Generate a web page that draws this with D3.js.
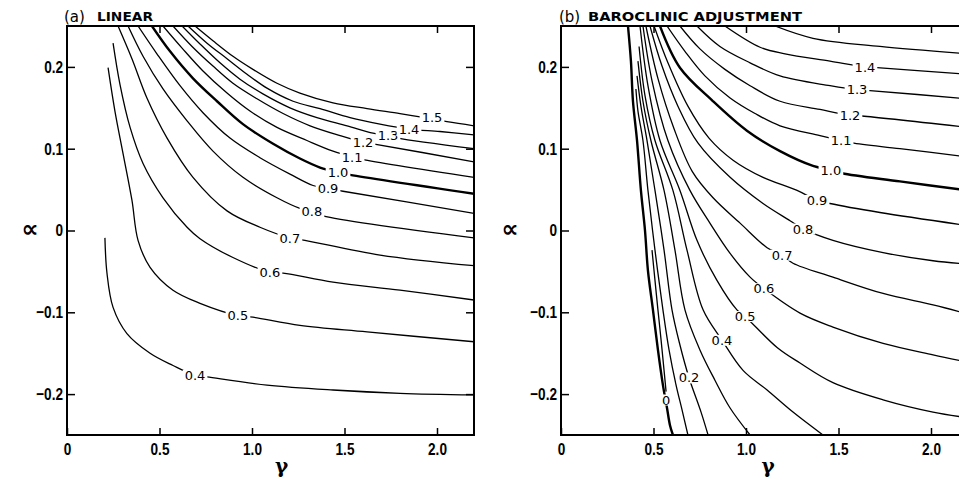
<!DOCTYPE html>
<html>
<head>
<meta charset="utf-8">
<script src="https://cdn.jsdelivr.net/npm/d3@7"></script>
<style>
body { margin: 0; background: #fff; }
svg { display: block; }
.tick text { font-family: "Liberation Sans", Arial, sans-serif; font-weight: bold; font-size: 17px; }
.clabel { font-family: "DejaVu Sans", sans-serif; font-size: 13px; }
</style>
</head>
<body>
<svg width="959" height="482"></svg>
<script>
var svg = d3.select('svg');

// axis ticks
var gammaTicks = [0, 0.5, 1.0, 1.5, 2.0];
var alphaTicks = [-0.2, -0.1, 0, 0.1, 0.2];

// (a) linear : contour levels, lines as [gamma, alpha], label spots
var levelsA = [0.4, 0.5, 0.6, 0.7, 0.8, 0.9, 1.0, 1.1, 1.2, 1.3, 1.4, 1.5];
var linesA = [
  [[0.205,-0.009],[0.216,-0.052],[0.249,-0.094],[0.324,-0.126],[0.449,-0.150],[0.573,-0.165],[0.692,-0.177],[0.757,-0.179],[1.081,-0.189],[1.438,-0.195],[1.800,-0.199],[2.2,-0.201]],
  [[0.222,0.199],[0.259,0.146],[0.303,0.094],[0.351,0.037],[0.384,-0.012],[0.449,-0.045],[0.573,-0.073],[0.719,-0.089],[0.924,-0.104],[1.005,-0.106],[1.259,-0.116],[1.622,-0.124],[2.2,-0.136]],
  [[0.249,0.229],[0.286,0.179],[0.341,0.126],[0.411,0.082],[0.519,0.040],[0.649,0.004],[0.719,-0.010],[0.897,-0.033],[1.097,-0.051],[1.168,-0.052],[1.438,-0.063],[1.800,-0.073],[2.2,-0.085]],
  [[0.276,0.25],[0.351,0.210],[0.432,0.162],[0.541,0.113],[0.681,0.065],[0.865,0.024],[1.043,0.004],[1.205,-0.009],[1.286,-0.012],[1.692,-0.030],[2.2,-0.043]],
  [[0.330,0.25],[0.411,0.213],[0.519,0.173],[0.649,0.134],[0.789,0.097],[0.951,0.065],[1.135,0.040],[1.259,0.027],[1.324,0.023],[1.384,0.018],[2.2,-0.009]],
  [[0.384,0.25],[0.486,0.216],[0.611,0.177],[0.735,0.144],[0.881,0.113],[1.043,0.089],[1.205,0.069],[1.330,0.055],[1.411,0.051],[1.492,0.048],[2.2,0.021]],
  [[0.459,0.25],[0.557,0.219],[0.681,0.186],[0.811,0.158],[0.951,0.130],[1.114,0.106],[1.259,0.088],[1.368,0.077],[1.465,0.071],[1.530,0.068],[2.2,0.045]],
  [[0.519,0.25],[0.622,0.223],[0.735,0.195],[0.865,0.168],[0.989,0.146],[1.135,0.126],[1.297,0.110],[1.438,0.097],[1.541,0.090],[1.595,0.087],[2.2,0.065]],
  [[0.573,0.25],[0.676,0.225],[0.789,0.201],[0.897,0.180],[1.027,0.161],[1.168,0.143],[1.314,0.128],[1.476,0.116],[1.600,0.108],[1.654,0.106],[2.2,0.084]],
  [[0.622,0.25],[0.719,0.228],[0.827,0.205],[0.935,0.185],[1.059,0.167],[1.205,0.150],[1.351,0.138],[1.514,0.128],[1.654,0.119],[1.735,0.116],[1.789,0.113],[2.2,0.100]],
  [[0.654,0.25],[0.757,0.229],[0.865,0.210],[0.973,0.191],[1.081,0.174],[1.222,0.158],[1.368,0.149],[1.530,0.138],[1.692,0.130],[1.849,0.124],[2.016,0.121],[2.2,0.117]],
  [[0.692,0.25],[0.789,0.232],[0.897,0.213],[1.005,0.197],[1.135,0.180],[1.259,0.168],[1.438,0.156],[1.622,0.149],[1.800,0.143],[1.908,0.139],[2.054,0.133],[2.2,0.128]]
];
var labelsA = [[0.692,-0.177],[0.924,-0.104],[1.097,-0.051],[1.205,-0.009],[1.324,0.023],[1.411,0.051],
  [1.465,0.071],[1.541,0.090],[1.600,0.108],[1.735,0.116],[1.849,0.124],[1.973,0.138]];

// (b) baroclinic adjustment (two branches at 0)
var levelsB = [0, 0, 0.1, 0.2, 0.3, 0.4, 0.5, 0.6, 0.7, 0.8, 0.9, 1.0, 1.1, 1.2, 1.3, 1.4, 1.5];
var linesB = [
  [[0.362,0.25],[0.378,0.207],[0.389,0.158],[0.411,0.110],[0.432,0.049],[0.454,0.000],[0.470,-0.049],[0.497,-0.097],[0.524,-0.146],[0.551,-0.189],[0.573,-0.217],[0.589,-0.238],[0.605,-0.25]],
  [[0.492,-0.024],[0.508,-0.061],[0.524,-0.097],[0.541,-0.134],[0.557,-0.171],[0.568,-0.197]],
  [[0.405,0.173],[0.416,0.146],[0.443,0.110],[0.470,0.049],[0.508,-0.024],[0.551,-0.097],[0.584,-0.146],[0.622,-0.189],[0.654,-0.219],[0.686,-0.25]],
  [[0.411,0.189],[0.432,0.152],[0.465,0.110],[0.508,0.049],[0.557,-0.024],[0.600,-0.097],[0.643,-0.140],[0.692,-0.180],[0.757,-0.222],[0.795,-0.25]],
  [[0.416,0.207],[0.443,0.158],[0.486,0.110],[0.557,0.049],[0.616,-0.024],[0.670,-0.097],[0.751,-0.146],[0.832,-0.183],[0.914,-0.217],[1.022,-0.25]],
  [[0.422,0.225],[0.454,0.165],[0.508,0.110],[0.605,0.049],[0.681,-0.024],[0.768,-0.097],[0.870,-0.134],[0.984,-0.171],[1.114,-0.195],[1.254,-0.222],[1.416,-0.25]],
  [[0.427,0.25],[0.470,0.177],[0.535,0.110],[0.643,0.049],[0.735,-0.012],[0.843,-0.061],[0.951,-0.097],[0.995,-0.105],[1.168,-0.143],[1.292,-0.162],[1.470,-0.186],[1.741,-0.207],[2.011,-0.222],[2.2,-0.229]],
  [[0.443,0.25],[0.492,0.183],[0.578,0.110],[0.697,0.049],[0.805,0.009],[0.914,-0.028],[1.022,-0.057],[1.097,-0.071],[1.292,-0.101],[1.470,-0.118],[1.741,-0.138],[2.011,-0.152],[2.2,-0.161]],
  [[0.459,0.25],[0.525,0.185],[0.610,0.125],[0.710,0.072],[0.822,0.040],[0.968,0.009],[1.114,-0.021],[1.195,-0.030],[1.254,-0.040],[1.470,-0.057],[1.741,-0.077],[2.011,-0.091],[2.2,-0.102]],
  [[0.481,0.25],[0.546,0.201],[0.632,0.152],[0.740,0.107],[0.914,0.065],[1.092,0.033],[1.238,0.012],[1.308,0.002],[1.470,-0.012],[1.741,-0.027],[2.011,-0.037],[2.2,-0.041]],
  [[0.503,0.25],[0.578,0.205],[0.686,0.152],[0.800,0.113],[0.930,0.086],[1.092,0.065],[1.276,0.049],[1.384,0.037],[1.454,0.033],[1.724,0.022],[2.2,0.006]],
  [[0.535,0.25],[0.643,0.199],[0.822,0.158],[1.005,0.122],[1.184,0.097],[1.362,0.079],[1.459,0.074],[1.519,0.070],[1.832,0.060],[2.2,0.049]],
  [[0.573,0.25],[0.670,0.219],[0.778,0.189],[0.914,0.162],[1.049,0.143],[1.184,0.128],[1.400,0.116],[1.514,0.110],[1.573,0.107],[1.832,0.100],[2.2,0.090]],
  [[0.643,0.25],[0.751,0.222],[0.886,0.197],[1.022,0.177],[1.184,0.158],[1.400,0.148],[1.562,0.141],[1.627,0.140],[2.2,0.126]],
  [[0.735,0.25],[0.859,0.225],[1.022,0.205],[1.184,0.189],[1.454,0.177],[1.600,0.172],[1.670,0.171],[2.2,0.161]],
  [[0.886,0.25],[1.076,0.224],[1.211,0.216],[1.454,0.207],[1.643,0.200],[1.708,0.199],[2.2,0.191]],
  [[1.157,0.25],[1.362,0.235],[1.724,0.225],[2.2,0.216]]
];
var labelsB = [[0.568,-0.207], null, null, [0.692,-0.180], null, [0.870,-0.134], [0.995,-0.105], [1.097,-0.071],
  [1.195,-0.030], [1.308,0.002], [1.384,0.037], [1.459,0.074], [1.514,0.110], [1.562,0.141], [1.600,0.172], [1.643,0.200], null];

var plotTop = 26, plotBottom = 435, plotWidth = 407;
var squeeze = 0.8; // tick font is narrower in the original

var fmt = function(d) { return d === 0 ? '0' : d3.format('.1f')(d); };

function heavy(level, i) {
  return level === 1 || (level === 0 && i === 0);
}

function panel(x0, id, levels, lines, labels) {
  var x = d3.scaleLinear().domain([0, 2.2]).range([x0, x0 + plotWidth]);
  var y = d3.scaleLinear().domain([-0.25, 0.25]).range([plotBottom, plotTop]);
  var g = svg.append('g');

  g.append('clipPath').attr('id', 'clip' + id)
    .append('rect')
    .attr('x', x0).attr('y', plotTop)
    .attr('width', plotWidth).attr('height', plotBottom - plotTop);

  var line = d3.line()
    .x(function(d) { return x(d[0]); })
    .y(function(d) { return y(d[1]); })
    .curve(d3.curveCatmullRom.alpha(0.5));

  var cg = g.append('g').attr('clip-path', 'url(#clip' + id + ')');
  cg.selectAll('path')
    .data(lines)
    .enter()
    .append('path')
    .attr('d', line)
    .attr('fill', 'none')
    .attr('stroke', '#000')
    .attr('stroke-width', function(d, i) { return heavy(levels[i], i) ? 2.4 : 1.3; });

  var lab = levels.map(function(lv, i) { return { level: lv, at: labels[i] }; })
    .filter(function(d) { return d.at; });

  var lg = cg.selectAll('g.lab')
    .data(lab)
    .enter()
    .append('g')
    .attr('class', 'lab')
    .attr('transform', function(d) { return 'translate(' + x(d.at[0]) + ',' + y(d.at[1]) + ')'; });

  var bg = lg.append('rect').attr('fill', '#fff');
  var tx = lg.append('text')
    .attr('class', 'clabel')
    .attr('text-anchor', 'middle')
    .attr('dy', '0.36em')
    .text(function(d) { return fmt(d.level); });

  // white gap in the line behind each label
  tx.each(function() {
    var b = this.getBBox();
    d3.select(this.previousSibling)
      .attr('x', b.x - 2).attr('y', b.y + 2)
      .attr('width', b.width + 4).attr('height', b.height - 4);
  });

  // frame
  g.append('rect')
    .attr('x', x0).attr('y', plotTop)
    .attr('width', plotWidth).attr('height', plotBottom - plotTop)
    .attr('fill', 'none').attr('stroke', '#000').attr('stroke-width', 2);

  g.append('g')
    .attr('transform', 'translate(0,' + plotBottom + ')')
    .call(d3.axisBottom(x).tickValues(gammaTicks).tickSizeInner(-7).tickSizeOuter(0).tickPadding(8).tickFormat(fmt));
  g.append('g')
    .attr('transform', 'translate(0,' + plotTop + ')')
    .call(d3.axisTop(x).tickValues(gammaTicks.slice(1)).tickSizeInner(-7).tickSizeOuter(0).tickFormat(''));
  var ya = g.append('g')
    .attr('transform', 'translate(' + x0 + ',0)')
    .call(d3.axisLeft(y).tickValues(alphaTicks).tickSizeInner(-8).tickSizeOuter(0).tickPadding(4).tickFormat(fmt));
  g.append('g')
    .attr('transform', 'translate(' + (x0 + plotWidth) + ',0)')
    .call(d3.axisRight(y).tickValues(alphaTicks).tickSizeInner(-8).tickSizeOuter(0).tickFormat(''));

  g.selectAll('.domain').remove();
  g.selectAll('.tick line').attr('stroke-width', 1.5);
  g.selectAll('.tick text').attr('transform', 'scale(' + squeeze + ',1)');
  ya.selectAll('.tick text').attr('x', -4 / squeeze);

  return x;
}

var xa = panel(67, 'a', levelsA, linesA, labelsA);
var xb = panel(561, 'b', levelsB, linesB, labelsB);

// titles
svg.append('text').attr('x', 64).attr('y', 22)
  .style('font-family', 'DejaVu Sans, sans-serif').style('font-size', '15px').text('(a)');
svg.append('text').attr('x', 97).attr('y', 21).attr('textLength', 56).attr('lengthAdjust', 'spacingAndGlyphs')
  .style('font-family', 'DejaVu Sans, sans-serif').style('font-weight', 'bold').style('font-size', '12px').text('LINEAR');
svg.append('text').attr('x', 559).attr('y', 22)
  .style('font-family', 'DejaVu Sans, sans-serif').style('font-size', '15px').text('(b)');
svg.append('text').attr('x', 588).attr('y', 21).attr('textLength', 214).attr('lengthAdjust', 'spacingAndGlyphs')
  .style('font-family', 'DejaVu Sans, sans-serif').style('font-weight', 'bold').style('font-size', '12px').text('BAROCLINIC ADJUSTMENT');

// axis names
[[xa(1.16), 30], [xb(1.12), 510]].forEach(function(p) {
  svg.append('text').attr('x', p[0]).attr('y', 473).attr('text-anchor', 'middle')
    .style('font-family', 'DejaVu Serif, serif').style('font-weight', 'bold').style('font-size', '20px').text('γ');
  svg.append('text').attr('x', p[1]).attr('y', 237).attr('text-anchor', 'middle')
    .style('font-family', 'DejaVu Sans, sans-serif').style('font-weight', 'bold').style('font-size', '24px').text('∝');
});
</script>
</body>
</html>
